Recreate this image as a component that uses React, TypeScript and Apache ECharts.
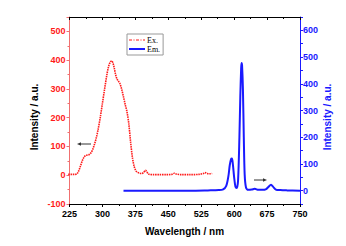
import React, { useEffect, useRef } from "react";
import * as echarts from "echarts";

const exData: [number, number][] = [
  [222, 3], [230, 3], [238, 3], [242, 5], [246, 15], [250, 32], [254, 50], [258, 63], [262, 69],
  [266, 70], [270, 72], [274, 78], [278, 90], [282, 108], [286, 130], [290, 158], [295, 200],
  [300, 250], [305, 300], [310, 348], [314, 378], [318, 394], [321, 397], [324, 390], [327, 372],
  [330, 350], [333, 335], [336, 328], [340, 318], [344, 298], [348, 272], [352, 245], [356, 220],
  [360, 180], [364, 118], [368, 65], [372, 32], [376, 16], [380, 10], [385, 7], [390, 6], [394, 10],
  [398, 17], [401, 12], [405, 4], [415, 2], [430, 2], [445, 2], [458, 3], [464, 7], [468, 4],
  [480, 2], [500, 2], [520, 3], [530, 6], [534, 9], [538, 6], [545, 5], [550, 6],
];

const emData: [number, number][] = [
  [348, 0], [400, 0], [450, 0], [500, 0], [540, 1], [565, 2], [575, 5], [582, 18], [587, 55],
  [590, 95], [593, 118], [595, 120], [597, 100], [600, 50], [603, 15], [606, 10], [609, 40],
  [612, 200], [614, 350], [616, 460], [617, 478], [618, 470], [620, 380], [622, 200], [624, 60],
  [627, 12], [632, 3], [640, 4], [647, 7], [655, 3], [665, 3], [673, 6], [678, 14], [684, 22],
  [689, 14], [695, 4], [705, 2], [720, 1], [750, 0],
];

const xTicks = [225, 300, 375, 450, 525, 600, 675, 750];
const leftTicks = [-100, 0, 100, 200, 300, 400, 500];
const rightTicks = [0, 100, 200, 300, 400, 500, 600];

const RED = "#ff1a1a";
const BLUE = "#1a1aff";
const FONT = "Liberation Sans, Arial, sans-serif";

export default function App() {
  const ref = useRef<HTMLDivElement>(null);
  useEffect(() => {
    document.body.style.margin = "0";
    const chart = echarts.init(ref.current!, null, { renderer: "svg" });
    const option: any = {
      animation: false,
      grid: { left: 69.5, right: 46, top: 17, bottom: 42 },
      legend: {
        orient: "vertical",
        left: 127,
        top: 34,
        itemWidth: 16,
        itemHeight: 9,
        itemGap: 1,
        padding: [2, 3, 2, 1],
        borderColor: "#999",
        borderWidth: 1,
        itemStyle: { opacity: 0 },
        textStyle: { fontFamily: "Liberation Serif, Times New Roman, serif", fontSize: 8, color: "#000", padding: [0, 0, 0, -3] },
        data: [
          { name: "Ex.", lineStyle: { type: [3, 1.5, 1, 1.5], width: 1 } },
          { name: "Em.", lineStyle: { width: 2 } },
        ],
      },
      xAxis: [
        {
          type: "value",
          min: 225,
          max: 750,
          interval: 75,
          axisLine: { onZero: false, lineStyle: { color: "#000", width: 1 } },
          axisTick: { inside: false, length: 3, lineStyle: { color: "#000" } },
          minorTick: { show: true, splitNumber: 2, length: 2, lineStyle: { color: "#000" } },
          splitLine: { show: false },
          axisLabel: {
            margin: 5,
            fontFamily: FONT,
            fontWeight: "bold",
            fontSize: 9,
            color: "#000",
            formatter: (v: number) => (xTicks.includes(v) ? String(v) : ""),
          },
        },
        {
          type: "value",
          position: "top",
          min: 225,
          max: 750,
          interval: 75,
          axisLine: { show: true, onZero: false, lineStyle: { color: "#000", width: 1 } },
          axisTick: { show: true, inside: true, length: 3, lineStyle: { color: "#000" } },
          minorTick: { show: true, splitNumber: 2, length: 2, lineStyle: { color: "#000" } },
          splitLine: { show: false },
          axisLabel: { show: false },
        },
      ],
      yAxis: [
        {
          type: "value",
          min: -100,
          max: 550,
          interval: 100,
          axisLine: { show: true, onZero: false, lineStyle: { color: "#f07070", width: 1 } },
          axisTick: { show: true, length: 3, lineStyle: { color: "#f07070" } },
          minorTick: { show: true, splitNumber: 2, length: 2, lineStyle: { color: "#f07070" } },
          splitLine: { show: false },
          axisLabel: {
            margin: 4,
            fontFamily: FONT,
            fontWeight: "bold",
            fontSize: 9,
            color: RED,
            formatter: (v: number) => (leftTicks.includes(v) ? String(v) : ""),
          },
        },
        {
          type: "value",
          position: "right",
          min: -50,
          max: 650,
          interval: 50,
          axisLine: { show: true, onZero: false, lineStyle: { color: BLUE, width: 1 } },
          axisTick: { show: true, length: 3, lineStyle: { color: BLUE } },
          splitLine: { show: false },
          axisLabel: {
            margin: 3,
            fontFamily: FONT,
            fontWeight: "bold",
            fontSize: 9,
            color: BLUE,
            formatter: (v: number) => (rightTicks.includes(v) ? String(v) : ""),
          },
        },
      ],
      series: [
        {
          name: "Ex.",
          type: "line",
          xAxisIndex: 0,
          yAxisIndex: 0,
          data: exData,
          symbol: "none",
          smooth: 0.3,
          color: RED,
          lineStyle: { color: RED, width: 1.6, type: [1.5, 0.8] },
        },
        {
          name: "Em.",
          type: "line",
          xAxisIndex: 0,
          yAxisIndex: 1,
          data: emData,
          symbol: "none",
          smooth: 0.3,
          color: BLUE,
          lineStyle: { color: BLUE, width: 2 },
        },
      ],
      graphic: [
        {
          type: "text",
          x: 34,
          y: 117,
          rotation: Math.PI / 2,
          style: {
            text: "Intensity / a.u.",
            fill: "#000",
            font: `bold 10px ${FONT}`,
            align: "center",
            verticalAlign: "middle",
          },
        },
        {
          type: "text",
          x: 327,
          y: 117,
          rotation: Math.PI / 2,
          style: {
            text: "Intensity / a.u.",
            fill: BLUE,
            font: `bold 10px ${FONT}`,
            align: "center",
            verticalAlign: "middle",
          },
        },
        {
          type: "text",
          x: 184.5,
          y: 231,
          style: {
            text: "Wavelength / nm",
            fill: "#000",
            font: `bold 10px ${FONT}`,
            align: "center",
            verticalAlign: "middle",
          },
        },
        { type: "line", shape: { x1: 80, y1: 144, x2: 91, y2: 144 }, style: { stroke: "#333", lineWidth: 1 } },
        { type: "polygon", shape: { points: [[77, 144], [81, 142.3], [81, 145.7]] }, style: { fill: "#333" } },
        { type: "line", shape: { x1: 254, y1: 180, x2: 264, y2: 180 }, style: { stroke: "#333", lineWidth: 1 } },
        { type: "polygon", shape: { points: [[267, 180], [263, 178.3], [263, 181.7]] }, style: { fill: "#333" } },
      ],
    };
    chart.setOption(option);
    return () => chart.dispose();
  }, []);
  return <div ref={ref} style={{ width: 346, height: 246 }} />;
}
